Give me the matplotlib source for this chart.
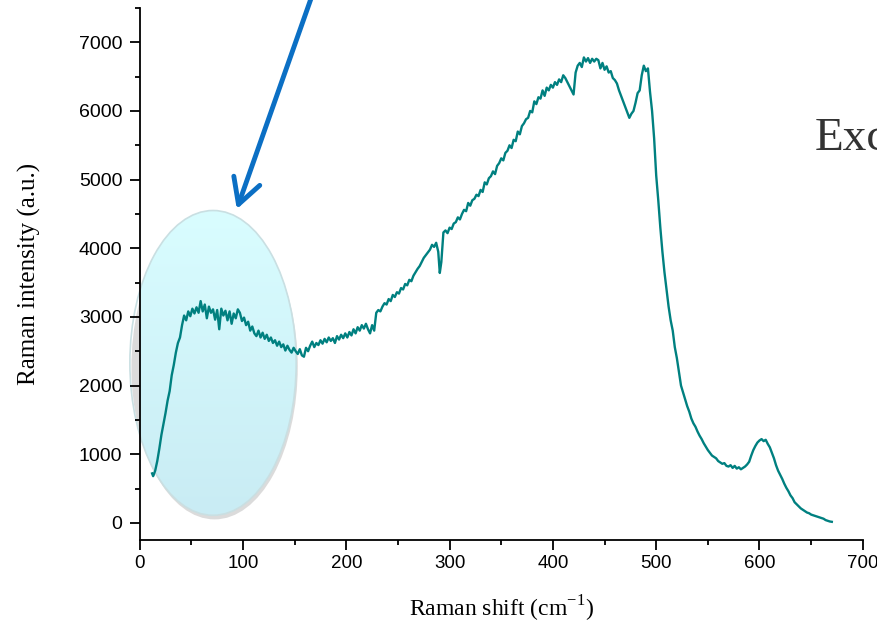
import numpy as np
import matplotlib.pyplot as plt
from matplotlib.patches import Ellipse
from matplotlib.colors import LinearSegmentedColormap
from matplotlib.ticker import MultipleLocator

# Raman spectrum
shift = [12, 13, 15, 17, 19, 21, 23, 25, 27, 29, 31, 33, 35, 37, 39, 41, 43, 45,
         47, 49, 51, 53, 55, 57, 59, 61, 63, 65, 67, 69, 71, 73, 75, 77, 79, 81, 83, 85, 87, 89,
         91, 93, 95, 97, 99, 101, 103, 105, 107, 109, 111, 113, 115, 117, 119, 121, 123, 125,
         127, 129, 131, 133, 135, 137, 139, 141, 143, 145, 147, 149, 151, 153, 155, 157, 159,
         161, 163, 165, 167, 169, 171, 173, 175, 177, 179, 181, 183, 185, 187, 189, 191, 193,
         195, 197, 199, 201, 203, 205, 207, 209, 211, 213, 215, 217, 219, 221, 223, 225, 227,
         229, 231, 233, 235, 237, 239, 241, 243, 245, 247, 249, 251, 253, 255, 257, 259, 261,
         263, 265, 267, 269, 271, 273, 275, 277, 279, 281, 283, 285, 287, 289, 290.5, 292, 294,
         296, 298, 300, 302, 304, 306, 308, 310, 312, 314, 316, 318, 320, 322, 324, 326, 328,
         330, 332, 334, 336, 338, 340, 342, 344, 346, 348, 350, 352, 354, 356, 358, 360, 362,
         364, 366, 368, 370, 372, 374, 376, 378, 380, 382, 384, 386, 388, 390, 392, 394, 396,
         398, 400, 402, 404, 406, 408, 410, 412, 414, 416, 418, 420, 422, 424, 426, 428, 430,
         432, 434, 436, 438, 440, 442, 444, 446, 448, 450, 452, 454, 456, 458, 460, 462, 464,
         466, 468, 470, 472, 474, 476, 478, 480, 482, 484, 486, 488, 490, 492, 494, 496, 498,
         500, 502, 504, 506, 508, 510, 512, 514, 516, 518, 520, 522, 524, 526, 528, 530, 532,
         534, 536, 538, 540, 542, 544, 546, 548, 550, 552, 554, 556, 558, 560, 562, 564, 566,
         568, 570, 572, 574, 576, 578, 580, 582, 584, 586, 588, 590, 592, 594, 596, 598, 600,
         602, 604, 606, 608, 610, 612, 614, 616, 618, 620, 622, 624, 626, 628, 630, 632, 634,
         636, 638, 640, 642, 644, 646, 648, 650, 652, 654, 656, 658, 660, 662, 664, 666, 668, 670]
intensity = [720, 680, 760, 900, 1080, 1280, 1440, 1600, 1780, 1920, 2150, 2300, 2480, 2620, 2700, 2880, 3020, 2950,
             3080, 3010, 3120, 3050, 3140, 3060, 3230, 3080, 3180, 2980, 3150, 3060, 3110, 2960, 3100, 2820, 3120, 3020, 3090, 2950, 3080, 2900,
             3050, 2980, 3110, 3060, 2940, 2990, 2880, 2930, 2800, 2860, 2760, 2720, 2800, 2700, 2770, 2680, 2740, 2650,
             2700, 2620, 2660, 2580, 2640, 2560, 2600, 2510, 2580, 2520, 2480, 2550, 2500, 2460, 2530, 2440, 2420,
             2550, 2500, 2580, 2640, 2560, 2620, 2590, 2660, 2610, 2680, 2630, 2700, 2650, 2690, 2620, 2720, 2670,
             2740, 2690, 2760, 2700, 2780, 2730, 2820, 2760, 2850, 2800, 2880, 2830, 2900, 2820, 2760, 2880, 2800,
             3060, 3100, 3080, 3150, 3200, 3180, 3260, 3230, 3320, 3290, 3360, 3340, 3420, 3400, 3480, 3460, 3540,
             3520, 3600, 3650, 3700, 3740, 3800, 3860, 3900, 3940, 3980, 4050, 4020, 4080, 3950, 3640, 3800, 4230,
             4260, 4220, 4300, 4280, 4360, 4380, 4450, 4420, 4500, 4560, 4540, 4660, 4620, 4700, 4720, 4780, 4760,
             4850, 4820, 4960, 4930, 5020, 5050, 5120, 5080, 5200, 5240, 5310, 5280, 5390, 5420, 5500, 5460, 5580,
             5560, 5700, 5660, 5780, 5820, 5880, 5900, 6000, 5980, 6140, 6100, 6200, 6180, 6300, 6220, 6340, 6300,
             6380, 6340, 6420, 6380, 6460, 6420, 6520, 6480, 6420, 6360, 6300, 6240, 6560, 6660, 6700, 6640, 6780,
             6720, 6770, 6700, 6760, 6720, 6760, 6740, 6620, 6700, 6600, 6650, 6560, 6580, 6480, 6450, 6400, 6300,
             6220, 6140, 6060, 5980, 5900, 5960, 6000, 6120, 6260, 6300, 6520, 6660, 6580, 6620, 6280, 6000, 5600,
             5060, 4700, 4300, 3950, 3650, 3400, 3150, 2950, 2800, 2560, 2400, 2200, 2000, 1900, 1800, 1700, 1620,
             1520, 1450, 1400, 1330, 1270, 1220, 1160, 1110, 1060, 1020, 980, 960, 940, 900, 880, 860, 870,
             830, 820, 840, 800, 830, 790, 810, 780, 800, 820, 850, 890, 980, 1060, 1120, 1170, 1200,
             1220, 1190, 1210, 1150, 1100, 1020, 940, 840, 760, 700, 640, 570, 510, 460, 400, 360, 300,
             270, 240, 210, 190, 170, 150, 140, 120, 110, 100, 90, 80, 70, 60, 40, 30, 20, 15]

W, H = 878, 626
fig = plt.figure(figsize=(W / 100, H / 100), dpi=100)
ax = fig.add_axes([139.7 / W, 1 - 540 / H, (862.8 - 139.7) / W, (540 - 8) / H])

ax.plot(shift, intensity, color='#008080', lw=1.7, zorder=2)

ax.set_xlim(0, 700)
ax.set_ylim(-250, 7500)
ax.xaxis.set_major_locator(MultipleLocator(100))
ax.xaxis.set_minor_locator(MultipleLocator(50))
ax.yaxis.set_major_locator(MultipleLocator(1000))
ax.yaxis.set_minor_locator(MultipleLocator(500))
ax.tick_params(which='major', direction='out', length=7, width=1.3, pad=3.5, labelsize=13.5)
ax.tick_params(axis='y', which='major', labelsize=14, pad=5.5)
ax.tick_params(which='minor', direction='out', length=3.5, width=1.3)
for lab in ax.get_xticklabels() + ax.get_yticklabels():
    lab.set_family('Liberation Sans')
for s in ['top', 'right']:
    ax.spines[s].set_visible(False)
for s in ['left', 'bottom']:
    ax.spines[s].set_linewidth(1.3)

ax.set_xlabel('Raman shift (cm$^{\\mathregular{-1}}$)', family='Liberation Serif', fontsize=17, labelpad=16)
ax.set_ylabel('Raman intensity (a.u.)', family='Liberation Serif', fontsize=18, labelpad=27)

# highlighted region (ellipse with light cyan gradient)
cx, cy, ew, eh = 71, 2330, 161, 4440
shadow = Ellipse((cx + 1.5, cy - 60), ew, eh, facecolor='#c4c4c4', edgecolor='none', alpha=0.6,
                 zorder=0.5, clip_on=False)
ax.add_patch(shadow)
ell = Ellipse((cx, cy), ew, eh, facecolor='none', edgecolor='#c9dfe2', lw=1.2, zorder=0.7, clip_on=False)
ax.add_patch(ell)
grad = np.linspace(0, 1, 256).reshape(-1, 1)
img = ax.imshow(grad, cmap=LinearSegmentedColormap.from_list('c', ['#c9ecf4', '#d9fdff']),
                extent=[cx - ew / 2, cx + ew / 2, cy - eh / 2, cy + eh / 2], origin='lower',
                aspect='auto', zorder=0.6)
img.set_clip_path(ell)
ax.set_xlim(0, 700)
ax.set_ylim(-250, 7500)

# arrow pointing at the region
ax.annotate('', xy=(94, 4570), xytext=(168, 7730), annotation_clip=False,
            arrowprops=dict(arrowstyle='->,head_length=1.0,head_width=0.55', color='#0b6fc4',
                            lw=3.5, mutation_scale=18, shrinkA=0, shrinkB=0))

fig.text(815 / W, 1 - 150 / H, 'Exc', family='Liberation Serif', fontsize=34, color='#333333')

fig.savefig('out.png', dpi=100)
